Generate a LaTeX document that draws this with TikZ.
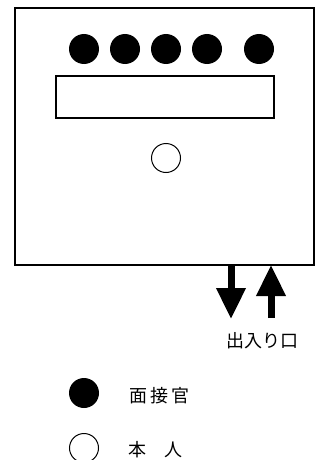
\documentclass[tikz,border=0pt]{standalone}
\usepackage{fontspec}
\newfontfamily\jp{Noto Sans CJK JP}
\usepackage{tikz}
\usetikzlibrary{arrows.meta}

\tikzset{
  officer/.style={circle,fill=black,inner sep=0pt,minimum size=30pt},
  person/.style={circle,draw,line width=1pt,inner sep=0pt,minimum size=29pt},
  label/.style={inner sep=0pt,font=\jp\fontsize{18pt}{20pt}\selectfont},
  doorarrow/.style={line width=7pt,-{Triangle[width=28pt,length=31pt]}}
}

\begin{document}
\begin{tikzpicture}[x=1pt,y=-1pt]
\useasboundingbox (0,0) rectangle (320,460);
% room and desk
\node[draw,line width=2pt,inner sep=0pt,minimum width=299pt,minimum height=257pt] (room) at (164.5,136.5) {};
\node[draw,line width=1.5pt,inner sep=0pt,minimum width=218pt,minimum height=42pt] (desk) at (165,97) {};
\foreach \x [count=\i] in {84,125,166,207,259}
  \node[officer] (officer\i) at (\x,49) {};
\node[person] (me) at (166,158) {};
% door
\coordinate (outtop) at (231,265);
\coordinate (outend) at (231,319);
\coordinate (intop) at (271,265);
\coordinate (inend) at (271,318);
\draw[doorarrow] (outtop)--(outend);
\draw[doorarrow] (inend)--(intop);
\node[label] (door) at (262,341) {出入り口};
% legend
\node[officer] (keyofficer) at (84,393) {};
\node[label,anchor=west] (keyofficertext) at (129,396) {面\kern3pt接\kern3pt官};
\node[person] (keyperson) at (84,448) {};
\node[label,anchor=west] (keypersontext) at (128,450) {本　人};
\end{tikzpicture}
\end{document}
